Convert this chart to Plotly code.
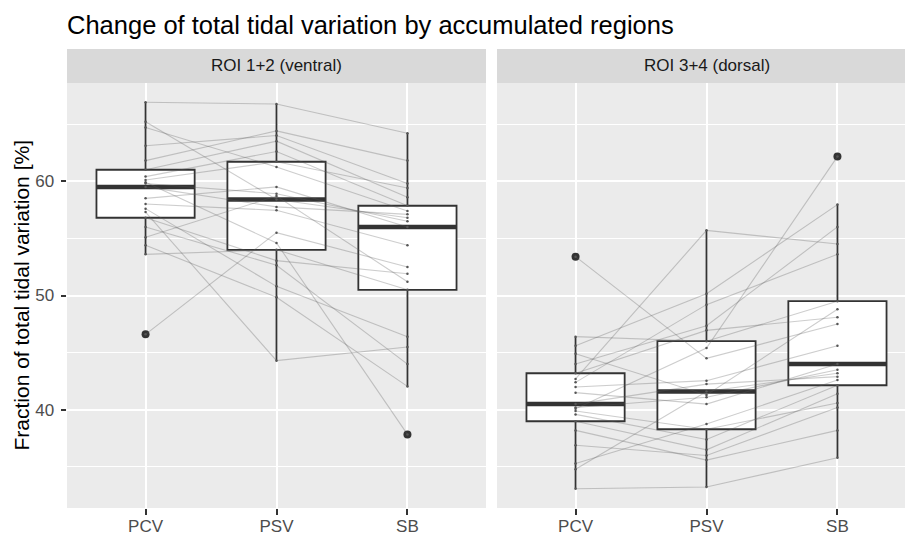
import plotly.graph_objects as go
import numpy as np

categories = ["PCV", "PSV", "SB"]
panel_titles = ["ROI 1+2 (ventral)", "ROI 3+4 (dorsal)"]

# per-subject values (21 subjects), ventral = ROI 1+2
ventral_pcv = [66.9, 46.6, 57.3, 59.9, 65.2, 64.7, 63.1, 61.8, 61.0, 60.4, 60.1,
               59.8, 59.5, 58.5, 58.0, 57.6, 56.8, 56.0, 55.1, 54.4, 53.6]
ventral_psv = [66.75, 55.5, 44.3, 54.6, 58.4, 61.25, 64.0, 64.4, 63.5, 62.6, 61.7,
               58.9, 57.75, 59.5, 57.45, 50.8, 53.05, 52.65, 58.7, 49.85, 54.0]
ventral_sb = [64.2, 52.5, 45.5, 37.85, 56.8, 57.4, 59.8, 61.8, 58.6, 57.85, 59.4,
              56.5, 57.1, 56.0, 54.4, 46.4, 51.9, 44.0, 51.2, 42.05, 50.5]

# dorsal = ROI 3+4
dorsal_pcv = [33.1, 53.4, 42.7, 40.1, 34.8, 35.3, 36.9, 38.2, 39.0, 39.6, 39.9,
              40.2, 40.5, 41.5, 42.0, 42.4, 43.2, 44.0, 44.9, 45.6, 46.4]
dorsal_psv = [33.25, 44.5, 55.7, 45.4, 41.6, 38.75, 36.0, 35.6, 36.5, 37.4, 38.3,
              41.1, 42.25, 40.5, 42.55, 49.2, 46.95, 47.35, 41.3, 50.15, 46.0]
dorsal_sb = [35.8, 47.5, 54.5, 62.15, 43.2, 42.6, 40.2, 38.2, 41.4, 42.15, 40.6,
             43.5, 42.9, 44.0, 45.6, 53.6, 48.1, 56.0, 48.8, 57.95, 49.5]

y_ticks = [40, 50, 60]
y_minor = [35, 45, 55, 65]

FONT = "Liberation Sans, Arial, sans-serif"
DARK = "#333333"
BOX_W = 0.75

panels = [
    (("x", "y"), [ventral_pcv, ventral_psv, ventral_sb]),
    (("x2", "y2"), [dorsal_pcv, dorsal_psv, dorsal_sb]),
]

fig = go.Figure()
for (xa, ya), cols in panels:
    xs_pos = list(range(1, len(categories) + 1))
    # boxes
    for pos, vals in zip(xs_pos, cols):
        fig.add_trace(go.Box(
            y=vals, x=[pos] * len(vals), width=BOX_W, fillcolor="white",
            line=dict(color=DARK, width=1.8), whiskerwidth=0,
            boxpoints="outliers", pointpos=0, jitter=0,
            marker=dict(color=DARK, size=8, line=dict(width=0)),
            quartilemethod="inclusive", xaxis=xa, yaxis=ya,
            showlegend=False, hoverinfo="skip"))
        med = float(np.percentile(vals, 50))
        fig.add_trace(go.Scatter(
            x=[pos - BOX_W / 2, pos + BOX_W / 2], y=[med, med], mode="lines",
            line=dict(color=DARK, width=4.5), xaxis=xa, yaxis=ya,
            showlegend=False, hoverinfo="skip"))
    # subject lines
    lx, ly = [], []
    n = len(cols[0])
    for j in range(n):
        for pos, vals in zip(xs_pos, cols):
            lx.append(pos)
            ly.append(vals[j])
        lx.append(None)
        ly.append(None)
    fig.add_trace(go.Scatter(
        x=lx, y=ly, mode="lines", line=dict(color="rgba(90,90,90,0.3)", width=1.1),
        xaxis=xa, yaxis=ya, showlegend=False, hoverinfo="skip"))
    # small points
    px, py = [], []
    for pos, vals in zip(xs_pos, cols):
        px += [pos] * len(vals)
        py += list(vals)
    fig.add_trace(go.Scatter(
        x=px, y=py, mode="markers", marker=dict(color="#555555", size=2.5),
        xaxis=xa, yaxis=ya, showlegend=False, hoverinfo="skip"))

all_vals = ventral_pcv + ventral_psv + ventral_sb + dorsal_pcv + dorsal_psv + dorsal_sb
lo, hi = min(all_vals), max(all_vals)
span = hi - lo
y_range = [lo - 0.05 * span, hi + 0.05 * span]

W, H = 905, 535
ML, MR, MT, MB = 67, 0, 83, 27
pw = W - ML - MR
ph = H - MT - MB
left_end = (486 - ML) / pw
right_start = (497 - ML) / pw
unit = (486 - 67) / 3.2
right_max = 0.4 + (W - 497) / unit

axis_common = dict(
    showgrid=True, gridcolor="white", gridwidth=2, zeroline=False, showline=False,
    ticks="outside", ticklen=5.5, tickwidth=1.5, tickcolor=DARK,
    tickfont=dict(family=FONT, size=17, color="#4D4D4D"), automargin=False,
)

fig.update_layout(
    width=W, height=H,
    margin=dict(l=ML, r=MR, t=MT, b=MB),
    paper_bgcolor="white", plot_bgcolor="#EBEBEB",
    font=dict(family=FONT),
    title=dict(text="Change of total tidal variation by accumulated regions",
               x=0, xref="paper", xanchor="left",
               y=1 - 25 / H, yref="container", yanchor="middle",
               font=dict(family=FONT, size=25.5, color="black")),
    xaxis=dict(domain=[0, left_end], range=[0.4, 3.6], tickvals=[1, 2, 3],
               ticktext=categories, anchor="y", ticklabelstandoff=-3, **axis_common),
    xaxis2=dict(domain=[right_start, 1], range=[0.4, right_max], tickvals=[1, 2, 3],
                ticktext=categories, anchor="y2", ticklabelstandoff=-3, **axis_common),
    yaxis=dict(range=y_range, tickvals=y_ticks, anchor="x", ticklabelstandoff=3,
               minor=dict(tickvals=y_minor, showgrid=True, gridcolor="white",
                          gridwidth=1, ticks=""),
               **axis_common),
    yaxis2=dict(range=y_range, tickvals=y_ticks, anchor="x2", matches="y",
                showticklabels=False,
                minor=dict(tickvals=y_minor, showgrid=True, gridcolor="white",
                           gridwidth=1, ticks=""),
                **{k: v for k, v in axis_common.items() if k not in ("ticks",)},
                ticks=""),
)

strip_top = 1 + (MT - 49) / ph
for (x0, x1, label, cx) in [(0, left_end, panel_titles[0], (0 + left_end) / 2),
                            (right_start, 1, panel_titles[1],
                             ((497 + 497 + 419) / 2 - ML) / pw)]:
    fig.add_shape(type="rect", xref="paper", yref="paper", x0=x0, x1=x1,
                  y0=1, y1=strip_top, fillcolor="#D9D9D9", line=dict(width=0),
                  layer="below")
    fig.add_annotation(text=label, xref="paper", yref="paper", x=cx,
                       y=(1 + strip_top) / 2, xanchor="center", yanchor="middle",
                       showarrow=False, font=dict(family=FONT, size=17, color="#1A1A1A"))

fig.add_annotation(text="Fraction of total tidal variation [%]", textangle=-90,
                   xref="paper", yref="paper", x=(21 - ML) / pw, y=0.5,
                   xanchor="center", yanchor="middle", showarrow=False,
                   font=dict(family=FONT, size=21, color="black"))

fig.write_html("out.html", config={"displayModeBar": False},
               post_script="document.body.style.margin='0';document.body.style.overflow='hidden';")
